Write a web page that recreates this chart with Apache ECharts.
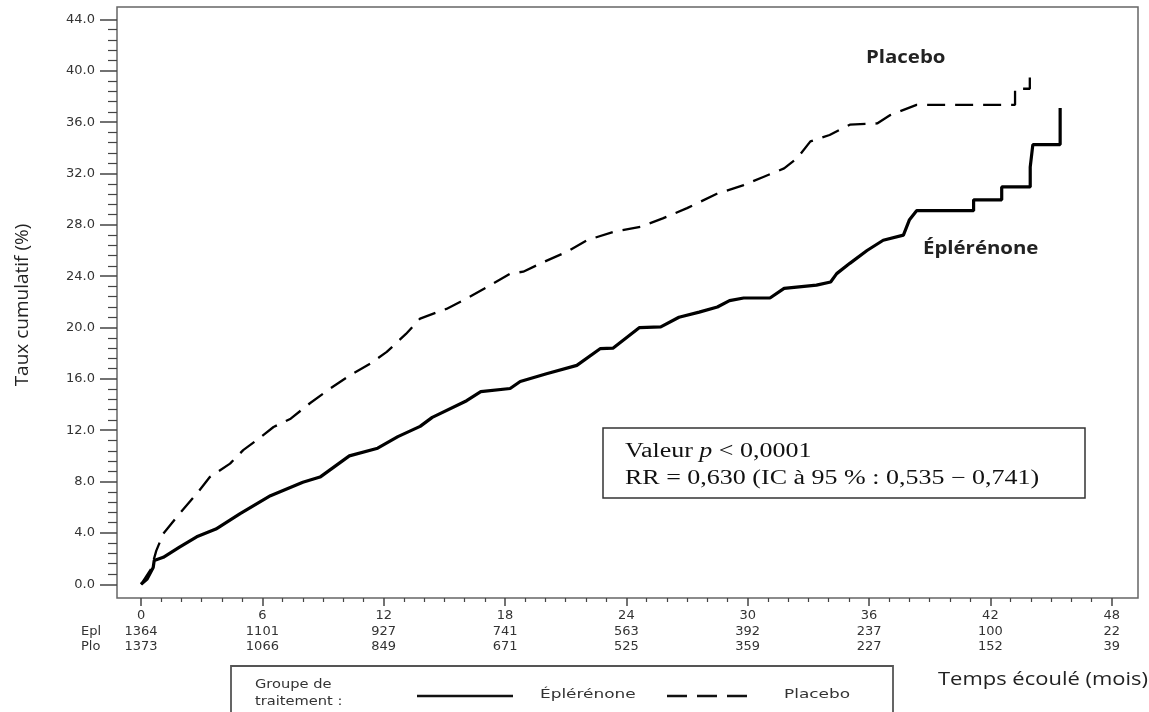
<!DOCTYPE html>
<html>
<head>
<meta charset="utf-8">
<script src="https://cdn.jsdelivr.net/npm/echarts@6.0.0/dist/echarts.min.js"></script>
<style>
  html, body { margin: 0; padding: 0; background: #fff; }
  #chart { width: 1149px; height: 712px; }
</style>
</head>
<body>
<div id="chart"></div>
<script>
// ---- Data ----
const xTicks = [0, 6, 12, 18, 24, 30, 36, 42, 48];
const eplAtRisk = [1364, 1101, 927, 741, 563, 392, 237, 100, 22];
const pboAtRisk = [1373, 1066, 849, 671, 525, 359, 227, 152, 39];
const yTicks = [0, 4, 8, 12, 16, 20, 24, 28, 32, 36, 40, 44];

// [months, cumulative rate %]
const eplerenone = [
  [0,0],[0.3,0.4],[0.6,1.3],[0.65,1.85],[1.1,2.1],[1.9,2.9],[2.75,3.7],[3.7,4.3],
  [4.9,5.5],[6.4,6.9],[8.0,7.95],[8.85,8.35],[10.3,10.0],[11.7,10.6],[12.7,11.5],
  [13.8,12.3],[14.4,13.0],[16.1,14.3],[16.8,15.0],[18.25,15.25],[18.75,15.8],
  [20.05,16.4],[21.55,17.05],[22.7,18.35],[23.35,18.4],[24.65,20.0],[25.7,20.05],
  [26.6,20.8],[27.6,21.2],[28.5,21.6],[29.1,22.1],[29.8,22.3],[31.1,22.3],
  [31.8,23.05],[33.4,23.3],[34.1,23.55],[34.4,24.2],[35.05,25.0],[35.9,26.0],
  [36.7,26.8],[37.7,27.2],[38.0,28.4],[38.35,29.1],[41.17,29.1],[41.17,29.95],
  [42.56,29.95],[42.56,30.95],[43.97,30.95],[43.97,32.5],[44.1,34.25],
  [45.45,34.25],[45.45,37.1]
];
const placebo = [
  [0,0],[0.5,1.2],[0.75,2.6],[1.1,3.95],[1.9,5.5],[2.75,7.05],[3.4,8.35],[4.4,9.4],
  [5.05,10.45],[5.7,11.2],[6.55,12.25],[7.4,12.9],[8.35,14.1],[9.35,15.25],
  [10.35,16.3],[11.35,17.2],[12.15,18.1],[13.1,19.5],[13.8,20.7],[15.1,21.45],
  [16.1,22.25],[17.1,23.15],[18.25,24.2],[18.9,24.35],[19.9,25.1],[21.05,25.9],
  [22.05,26.8],[23.35,27.45],[24.7,27.85],[25.8,28.5],[27.0,29.3],[28.45,30.4],
  [29.8,31.1],[30.8,31.75],[31.8,32.4],[32.45,33.2],[33.1,34.5],[34.05,35.0],
  [35.05,35.8],[36.4,35.9],[37.05,36.55],[38.35,37.35],[43.22,37.35],[43.22,38.6],
  [43.95,38.6],[43.95,39.85]
];

// tick helpers (axis decoration only)
const xMinor = [];
for (let m = 0; m <= 48; m++) if (m % 6 !== 0) xMinor.push(m);
const yMinor = [];
for (let k = 0; k <= 55; k++) { const v = +(k * 0.8).toFixed(1); if (k % 5 !== 0) yMinor.push(v); }

const X_MIN = -1.19, X_MAX = 49.3;
const Y_MIN = -1.07, Y_MAX = 44.97;
const tickFont = { fontFamily: 'DejaVu Sans', fontSize: 13, color: '#333' };
const axLine = { show: false, onZero: false };

const chart = echarts.init(document.getElementById('chart'));
chart.setOption({
  animation: false,
  backgroundColor: '#fff',
  grid: { left: 117, right: 11, top: 7, bottom: 114, show: true, borderColor: '#666', borderWidth: 1.5 },
  xAxis: [
    {
      type: 'value', min: X_MIN, max: X_MAX, position: 'bottom',
      axisLine: axLine, splitLine: { show: false },
      axisTick: { show: true, inside: false, customValues: xTicks, length: 8, lineStyle: { color: '#444', width: 1.5 } },
      axisLabel: {
        show: true, customValues: xTicks, margin: 10, lineHeight: 15.5, ...tickFont,
        formatter: function (v) {
          const i = xTicks.indexOf(v);
          return v + '\n' + eplAtRisk[i] + '\n' + pboAtRisk[i];
        }
      }
    },
    {
      type: 'value', min: X_MIN, max: X_MAX, position: 'bottom',
      axisLine: axLine, splitLine: { show: false },
      axisTick: { show: true, inside: false, customValues: xMinor, length: 4, lineStyle: { color: '#444', width: 1.2 } },
      axisLabel: { show: false }
    }
  ],
  yAxis: [
    {
      type: 'value', min: Y_MIN, max: Y_MAX, position: 'left',
      axisLine: axLine, splitLine: { show: false },
      axisTick: { show: true, inside: false, customValues: yTicks, length: 17, lineStyle: { color: '#444', width: 1.5 } },
      axisLabel: { show: true, customValues: yTicks, margin: 22, ...tickFont, formatter: v => v.toFixed(1) }
    },
    {
      type: 'value', min: Y_MIN, max: Y_MAX, position: 'left',
      axisLine: axLine, splitLine: { show: false },
      axisTick: { show: true, inside: false, customValues: yMinor, length: 9, lineStyle: { color: '#444', width: 1.2 } },
      axisLabel: { show: false }
    }
  ],
  series: [
    {
      name: 'Éplérénone', type: 'line', data: eplerenone, xAxisIndex: 0, yAxisIndex: 0,
      showSymbol: false, lineStyle: { color: '#000', width: 3.2 }, z: 3
    },
    {
      name: 'Placebo', type: 'line', data: placebo, xAxisIndex: 0, yAxisIndex: 0,
      showSymbol: false, lineStyle: { color: '#000', width: 2.3, type: [18, 10] }, z: 3
    }
  ],
  graphic: [
    { type: 'text', x: 23, y: 305, rotation: Math.PI / 2,
      style: { text: 'Taux cumulatif (%)', font: '19px "Open Sans"', fill: '#222',
               align: 'center', verticalAlign: 'middle', textAlign: 'center', textVerticalAlign: 'middle' } },
    { type: 'text', x: 938, y: 680, scaleX: 1.22,
      style: { text: 'Temps écoulé (mois)', font: '18px "Open Sans"', fill: '#222',
               align: 'left', verticalAlign: 'middle', textAlign: 'left', textVerticalAlign: 'middle' } },
    { type: 'text', x: 81, y: 632,
      style: { text: 'Epl', font: '13px "DejaVu Sans"', fill: '#333', align: 'left', verticalAlign: 'middle', textAlign: 'left', textVerticalAlign: 'middle' } },
    { type: 'text', x: 81, y: 647,
      style: { text: 'Plo', font: '13px "DejaVu Sans"', fill: '#333', align: 'left', verticalAlign: 'middle', textAlign: 'left', textVerticalAlign: 'middle' } },
    { type: 'text', x: 866, y: 58, scaleX: 1.2,
      style: { text: 'Placebo', font: 'bold 17px "Open Sans"', fill: '#222', align: 'left', verticalAlign: 'middle', textAlign: 'left', textVerticalAlign: 'middle' } },
    { type: 'text', x: 923, y: 249, scaleX: 1.2,
      style: { text: 'Éplérénone', font: 'bold 17px "Open Sans"', fill: '#222', align: 'left', verticalAlign: 'middle', textAlign: 'left', textVerticalAlign: 'middle' } },
    { type: 'rect', shape: { x: 603, y: 428, width: 482, height: 70 },
      style: { fill: '#fff', stroke: '#333', lineWidth: 1.5 }, z: 10 },
    { type: 'text', x: 625, y: 452, scaleX: 1.3, z: 11,
      style: { text: '{n|Valeur }{i|p}{n| < 0,0001}', fill: '#111',
               rich: { n: { font: '20px "Liberation Serif"', fill: '#111' }, i: { font: 'italic 20px "Liberation Serif"', fill: '#111' } },
               align: 'left', verticalAlign: 'middle', textAlign: 'left', textVerticalAlign: 'middle' } },
    { type: 'text', x: 625, y: 479, scaleX: 1.3, z: 11,
      style: { text: 'RR = 0,630 (IC à 95 % : 0,535 − 0,741)', font: '20px "Liberation Serif"', fill: '#111',
               align: 'left', verticalAlign: 'middle', textAlign: 'left', textVerticalAlign: 'middle' } },
    { type: 'rect', shape: { x: 231, y: 666, width: 662, height: 60 },
      style: { fill: 'none', stroke: '#555', lineWidth: 1.8 } },
    { type: 'text', x: 255, y: 685, scaleX: 1.22,
      style: { text: 'Groupe de', font: '12px "DejaVu Sans"', fill: '#333', align: 'left', verticalAlign: 'middle', textAlign: 'left', textVerticalAlign: 'middle' } },
    { type: 'text', x: 255, y: 702, scaleX: 1.22,
      style: { text: 'traitement :', font: '12px "DejaVu Sans"', fill: '#333', align: 'left', verticalAlign: 'middle', textAlign: 'left', textVerticalAlign: 'middle' } },
    { type: 'line', shape: { x1: 417, y1: 696, x2: 513, y2: 696 }, style: { stroke: '#111', lineWidth: 2.5 } },
    { type: 'text', x: 540, y: 695, scaleX: 1.3,
      style: { text: 'Éplérénone', font: '13px "DejaVu Sans"', fill: '#333', align: 'left', verticalAlign: 'middle', textAlign: 'left', textVerticalAlign: 'middle' } },
    { type: 'line', shape: { x1: 667, y1: 696, x2: 748, y2: 696 }, style: { stroke: '#111', lineWidth: 2.5, lineDash: [20, 10] } },
    { type: 'text', x: 784, y: 695, scaleX: 1.3,
      style: { text: 'Placebo', font: '13px "DejaVu Sans"', fill: '#333', align: 'left', verticalAlign: 'middle', textAlign: 'left', textVerticalAlign: 'middle' } }
  ]
});
</script>
</body>
</html>
